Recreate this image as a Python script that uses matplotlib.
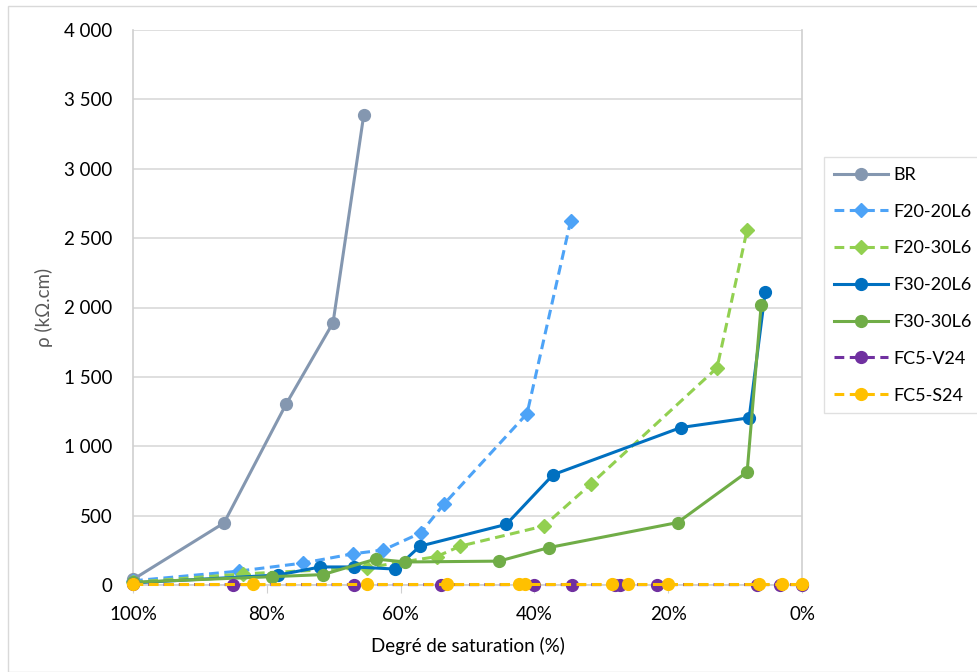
import matplotlib
matplotlib.use("Agg")
from matplotlib import pyplot as plt
from matplotlib.ticker import FuncFormatter, MultipleLocator
from matplotlib.patches import Rectangle

plt.rcParams['font.family'] = ['Lato', 'DejaVu Sans']

## data (saturation %, resistivity kOhm.cm) ##
br_x = [100, 86.4, 77.1, 70.1, 65.5]
br_y = [40, 447, 1305, 1890, 3390]

f2020_x = [100, 84.2, 74.6, 67.1, 62.6, 57.0, 53.5, 41.1, 34.6]
f2020_y = [30, 100, 158, 225, 252, 375, 584, 1235, 2620]

f2030_x = [100, 83.5, 65.0, 54.6, 51.1, 38.6, 31.5, 12.7, 8.2]
f2030_y = [20, 80, 125, 205, 280, 425, 730, 1565, 2560]

f3020_x = [100, 78.3, 72.0, 67.0, 60.8, 57.1, 44.2, 37.2, 18.1, 7.9, 5.5]
f3020_y = [15, 72, 130, 130, 115, 280, 437, 795, 1135, 1205, 2110]

f3030_x = [100, 79.2, 71.6, 63.7, 59.3, 45.3, 37.8, 18.6, 8.2, 6.1]
f3030_y = [20, 60, 75, 187, 166, 172, 270, 450, 815, 2020]

fcv_x = [100, 85.0, 67.0, 54.0, 40.0, 34.4, 28.0, 27.2, 21.7, 6.7, 3.3, 0]
fcv_y = [4, 3, 3, 3, 3, 3, 3, 3, 3, 3, 3, 3]

fcs_x = [100, 82.0, 65.0, 53.0, 42.3, 41.4, 28.4, 26.0, 20.0, 6.4, 3.0, 0]
fcs_y = [5, 5, 5, 5, 5, 5, 5, 5, 5, 5, 5, 5]

W, H = 978, 672
fig = plt.figure(figsize=(W / 100, H / 100), dpi=100)
ax = fig.add_axes([133 / W, 1 - 585 / H, (802 - 133) / W, (585 - 30) / H])

# chart outer border
fig.patches.append(Rectangle((8 / W, 0), 1 - 8 / W, 1 - 6 / H, transform=fig.transFigure,
                             fill=False, edgecolor='#d9d9d9', linewidth=1))

lw = 2.2
ms = 8.5
dash = (0, (3.2, 1.8))

series = [
    (br_x, br_y, '#8497B0', '-', 'o', 'BR'),
    (f2020_x, f2020_y, '#4DA3F7', dash, 'D', 'F20-20L6'),
    (f2030_x, f2030_y, '#92D050', dash, 'D', 'F20-30L6'),
    (f3020_x, f3020_y, '#0070C0', '-', 'o', 'F30-20L6'),
    (f3030_x, f3030_y, '#70AD47', '-', 'o', 'F30-30L6'),
    (fcv_x, fcv_y, '#7030A0', dash, 'o', 'FC5-V24'),
    (fcs_x, fcs_y, '#FFC000', dash, 'o', 'FC5-S24'),
]
for x, y, c, ls, m, name in series:
    ax.plot(x, y, color=c, lw=lw, ls=ls, marker=m, ms=ms - 1.5 if m == 'D' else ms,
            label=name, clip_on=False, zorder=3)

ax.set_xlim(100, 0)
ax.set_ylim(0, 4000)
ax.xaxis.set_major_locator(MultipleLocator(20))
ax.yaxis.set_major_locator(MultipleLocator(500))
ax.xaxis.set_major_formatter(FuncFormatter(lambda v, p: '%d%%' % round(v)))
ax.yaxis.set_major_formatter(FuncFormatter(lambda v, p: '{:,}'.format(int(v)).replace(',', ' ')))

ax.grid(axis='y', color='#d9d9d9', lw=1.2)
ax.set_axisbelow(True)
for s in ['left', 'right', 'bottom']:
    ax.spines[s].set_color('#d0d0d0')
    ax.spines[s].set_linewidth(1.2)
ax.spines['top'].set_visible(False)
ax.tick_params(axis='y', length=0, labelsize=13.5, colors='#000000', pad=15)
ax.tick_params(axis='x', length=6, color='#d0d0d0', direction='out', labelsize=13.5, pad=9)

ax.set_xlabel('Degré de saturation (%)', fontsize=13.5, color='#000000', labelpad=10)
ax.set_ylabel('ρ (kΩ.cm)', fontsize=13.5, color='#595959', labelpad=8)

leg = fig.legend(loc='upper left', bbox_to_anchor=(824 / W, 1 - 157 / H), fontsize=13,
                 frameon=True, fancybox=False, edgecolor='#d9d9d9', borderpad=0.55,
                 borderaxespad=0, labelspacing=1.15, handlelength=3.0, handletextpad=0.3)
leg.get_frame().set_linewidth(1)

fig.savefig('out.png', dpi=100)
